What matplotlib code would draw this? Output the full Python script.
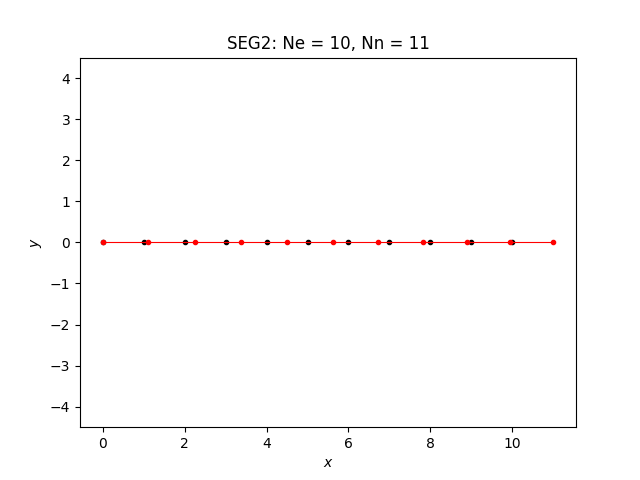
import numpy as np
import matplotlib
matplotlib.use("Agg")
from matplotlib import pyplot as plt

# element nodes (red) and reference nodes (black)
x_red = [0.0, 1.12, 2.25, 3.38, 4.5, 5.62, 6.72, 7.82, 8.88, 9.95, 11.0]
y_red = [0.0] * len(x_red)
x_blk = [0, 1, 2, 3, 4, 5, 6, 7, 8, 9, 10]
y_blk = [0.0] * len(x_blk)

fig, ax = plt.subplots(figsize=(6.4, 4.8), dpi=100)
ax.plot(x_blk, y_blk, "k.", ms=6)
ax.plot(x_red, y_red, "r.-", ms=6, lw=0.8)
ax.set_xlim(-0.55, 11.55)
ax.set_ylim(-4.5, 4.5)
ax.set_xlabel("$x$")
ax.set_ylabel("$y$")
ax.set_title("SEG2: Ne = 10, Nn = 11")
fig.savefig("out.png")
